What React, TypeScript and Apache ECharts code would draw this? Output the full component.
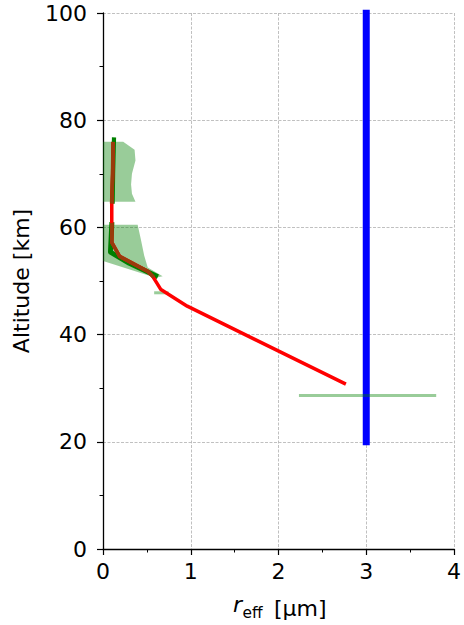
import React, { useEffect, useRef } from "react";
import * as echarts from "echarts";

// ---- data ----
const xTicks = [0, 1, 2, 3, 4];
const yTicks = [0, 20, 40, 60, 80, 100];

// retrieved effective radius profile (red)
const redProfile: [number, number][] = [
  [0.115, 75.6], [0.11, 70], [0.10, 64.8], [0.10, 60.5], [0.10, 57.2],
  [0.19, 54.6], [0.51, 51.8], [0.565, 50.9], [0.66, 48.4], [0.96, 45.3], [2.75, 30.9],
];
// reference profile (green), two layers
const greenUpper: [number, number][] = [[0.125, 76.4], [0.115, 70], [0.11, 64.8]];
const greenLower: [number, number][] = [[0.10, 60.5], [0.085, 55.4], [0.30, 53.3], [0.60, 51.0]];
// overlap of both profiles (brown)
const overlapUpper: [number, number][] = [[0.115, 75.6], [0.11, 70], [0.10, 64.8]];
const overlapLower: [number, number][] = [[0.10, 60.5], [0.10, 57.2], [0.19, 54.6], [0.51, 51.8], [0.565, 50.9]];
// uncertainty envelopes (light green)
const envelopeUpper: [number, number][] = [
  [0, 76.0], [0.23, 76.0], [0.36, 74.5], [0.37, 72.5], [0.33, 70], [0.32, 68], [0.33, 66.3], [0.37, 64.8], [0, 64.8],
];
const envelopeLower: [number, number][] = [
  [0, 60.5], [0.395, 60.5], [0.43, 57.9], [0.47, 54.7], [0.51, 52.5], [0.68, 50.9], [0.60, 50.6], [0.01, 53.7], [0, 53.8],
];
const stripMid: [number, number][] = [[0.60, 47.8], [0.73, 47.8]];
const stripLow: [number, number][] = [[2.25, 28.65], [3.78, 28.65]];
// constant value line (blue)
const blueProfile: [number, number][] = [[3, 20], [3, 100]];

const envelopes = [envelopeUpper, envelopeLower];

const FONT = "DejaVu Sans";
const lightGreen = "rgba(0,128,0,0.4)";

export default function App() {
  const ref = useRef<HTMLDivElement>(null);
  useEffect(() => {
    document.body.style.margin = "0";
    document.body.style.overflow = "hidden";
    const chart = echarts.init(ref.current!, null, { renderer: "svg", width: 464, height: 625 });
    const lineS = (data: [number, number][], color: string, width: number, z: number) => ({
      type: "line",
      data,
      symbol: "none",
      showSymbol: false,
      silent: true,
      z,
      lineStyle: { color, width, cap: "square", join: "round" },
    });
    chart.setOption({
      animation: false,
      backgroundColor: "#fff",
      grid: { left: 103, top: 13, width: 355, height: 536, containLabel: false },
      xAxis: {
        type: "value",
        min: xTicks[0],
        max: xTicks[xTicks.length - 1],
        interval: 1,
        axisLine: { show: true, onZero: false, lineStyle: { color: "#000", width: 1.3 } },
        axisTick: { show: true, inside: false, length: 6, lineStyle: { color: "#000", width: 1.2 } },
        minorTick: { show: true, splitNumber: 2, length: 3.5, lineStyle: { color: "#000", width: 1 } },
        splitLine: { show: true, lineStyle: { color: "#b0b0b0", width: 0.8, type: [3, 1.5] } },
        axisLabel: { fontSize: 22, color: "#000", fontFamily: FONT, margin: 11, showMaxLabel: true, showMinLabel: true },
      },
      yAxis: {
        type: "value",
        min: yTicks[0],
        max: yTicks[yTicks.length - 1],
        interval: 20,
        axisLine: { show: true, onZero: false, lineStyle: { color: "#000", width: 1.3 } },
        axisTick: { show: true, inside: false, length: 6, lineStyle: { color: "#000", width: 1.2 } },
        minorTick: { show: true, splitNumber: 2, length: 3.5, lineStyle: { color: "#000", width: 1 } },
        splitLine: { show: true, lineStyle: { color: "#b0b0b0", width: 0.8, type: [3, 1.5] } },
        axisLabel: { fontSize: 22, color: "#000", fontFamily: FONT, margin: 16 },
      },
      graphic: [
        {
          type: "text",
          rotation: Math.PI / 2,
          x: 21,
          y: 281,
          style: {
            text: "Altitude [km]",
            font: `22px '${FONT}'`,
            fill: "#000",
            align: "center",
            verticalAlign: "middle",
          },
        },
        {
          type: "text",
          x: 233,
          y: 615,
          style: { text: "r", font: `italic 22px '${FONT}'`, fill: "#000", align: "left", verticalAlign: "bottom" },
        },
        {
          type: "text",
          x: 242.5,
          y: 620,
          style: { text: "eff", font: `15.4px '${FONT}'`, fill: "#000", align: "left", verticalAlign: "bottom" },
        },
        {
          type: "text",
          x: 274,
          y: 619,
          style: { text: "[μm]", font: `22px '${FONT}'`, fill: "#000", align: "left", verticalAlign: "bottom" },
        },
      ],
      series: [
        {
          type: "custom",
          z: 1,
          silent: true,
          clip: true,
          data: envelopes.map((e) => e[0]),
          renderItem: (params: any, api: any) => {
            const poly = envelopes[params.dataIndex];
            return {
              type: "polygon",
              shape: { points: poly.map((p) => api.coord(p)) },
              style: { fill: lightGreen, stroke: "none" },
            };
          },
        },
        lineS(greenUpper, "#008000", 4.2, 3),
        lineS(greenLower, "#008000", 5, 3),
        lineS(redProfile, "#ff0000", 3.5, 4),
        lineS(overlapUpper, "#9a3b0c", 3.8, 5),
        lineS(overlapLower, "#9a3b0c", 3.5, 5),
        lineS(stripMid, lightGreen, 3, 2),
        lineS(blueProfile, "#0000ff", 7, 6),
        lineS(stripLow, lightGreen, 3, 7),
      ],
    });
    return () => chart.dispose();
  }, []);
  return <div ref={ref} style={{ width: 464, height: 625 }} />;
}
